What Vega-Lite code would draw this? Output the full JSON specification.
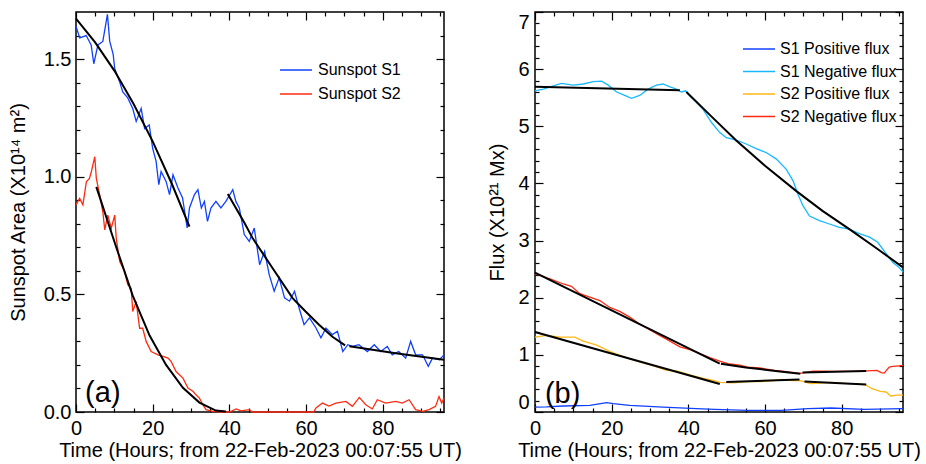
{
  "$schema": "https://vega.github.io/schema/vega-lite/v6.json",
  "padding": {"left": 7, "top": 10, "right": 0, "bottom": 0},
  "spacing": 24,
  "resolve": {"scale": {"color": "independent"}, "legend": {"color": "independent"}},
  "config": {
    "font": "Liberation Sans",
    "view": {"stroke": "black", "strokeWidth": 1.5},
    "axis": {"domain": false, "grid": false, "labelFont": "Liberation Sans", "labelFontSize": 20, "labelColor": "black", "tickColor": "black", "tickWidth": 1.2, "titleFont": "Liberation Sans", "titleFontSize": 20, "titleFontWeight": "normal", "titleColor": "black", "labelFlush": false},
    "legend": {"labelFont": "Liberation Sans", "labelFontSize": 16, "labelColor": "black"}
  },
  "datasets": {
    "a": [
      {"s":"Sunspot S1","t":0,"v":1.64},{"s":"Sunspot S1","t":0.96,"v":1.59},{"s":"Sunspot S1","t":2.66,"v":1.6},{"s":"Sunspot S1","t":3.95,"v":1.56},{"s":"Sunspot S1","t":4.64,"v":1.48},{"s":"Sunspot S1","t":5.72,"v":1.56},{"s":"Sunspot S1","t":7.0,"v":1.575},{"s":"Sunspot S1","t":8.2,"v":1.69},{"s":"Sunspot S1","t":8.8,"v":1.575},{"s":"Sunspot S1","t":9.7,"v":1.52},{"s":"Sunspot S1","t":10.1,"v":1.46},{"s":"Sunspot S1","t":11.35,"v":1.405},{"s":"Sunspot S1","t":12.2,"v":1.36},{"s":"Sunspot S1","t":13.5,"v":1.335},{"s":"Sunspot S1","t":14.8,"v":1.29},{"s":"Sunspot S1","t":15.7,"v":1.235},{"s":"Sunspot S1","t":17.0,"v":1.29},{"s":"Sunspot S1","t":17.9,"v":1.205},{"s":"Sunspot S1","t":19.1,"v":1.22},{"s":"Sunspot S1","t":20.0,"v":1.12},{"s":"Sunspot S1","t":20.9,"v":1.065},{"s":"Sunspot S1","t":21.6,"v":0.966},{"s":"Sunspot S1","t":22.2,"v":1.022},{"s":"Sunspot S1","t":23.5,"v":0.98},{"s":"Sunspot S1","t":24.4,"v":0.924},{"s":"Sunspot S1","t":25.3,"v":1.008},{"s":"Sunspot S1","t":26.6,"v":0.952},{"s":"Sunspot S1","t":27.8,"v":0.91},{"s":"Sunspot S1","t":29.0,"v":0.782},{"s":"Sunspot S1","t":29.6,"v":0.867},{"s":"Sunspot S1","t":30.9,"v":0.924},{"s":"Sunspot S1","t":31.8,"v":0.945},{"s":"Sunspot S1","t":32.7,"v":0.867},{"s":"Sunspot S1","t":33.5,"v":0.895},{"s":"Sunspot S1","t":34.3,"v":0.81},{"s":"Sunspot S1","t":35.2,"v":0.867},{"s":"Sunspot S1","t":36.5,"v":0.895},{"s":"Sunspot S1","t":37.8,"v":0.867},{"s":"Sunspot S1","t":39.1,"v":0.895},{"s":"Sunspot S1","t":40.9,"v":0.945},{"s":"Sunspot S1","t":41.7,"v":0.895},{"s":"Sunspot S1","t":42.6,"v":0.867},{"s":"Sunspot S1","t":43.9,"v":0.754},{"s":"Sunspot S1","t":45.2,"v":0.725},{"s":"Sunspot S1","t":46.5,"v":0.782},{"s":"Sunspot S1","t":47.9,"v":0.626},{"s":"Sunspot S1","t":49.2,"v":0.683},{"s":"Sunspot S1","t":50.4,"v":0.584},{"s":"Sunspot S1","t":51.7,"v":0.513},{"s":"Sunspot S1","t":53.0,"v":0.57},{"s":"Sunspot S1","t":54.4,"v":0.485},{"s":"Sunspot S1","t":55.7,"v":0.471},{"s":"Sunspot S1","t":57.0,"v":0.513},{"s":"Sunspot S1","t":58.2,"v":0.442},{"s":"Sunspot S1","t":59.5,"v":0.371},{"s":"Sunspot S1","t":60.9,"v":0.4},{"s":"Sunspot S1","t":62.6,"v":0.357},{"s":"Sunspot S1","t":63.9,"v":0.315},{"s":"Sunspot S1","t":65.2,"v":0.357},{"s":"Sunspot S1","t":66.9,"v":0.329},{"s":"Sunspot S1","t":68.2,"v":0.343},{"s":"Sunspot S1","t":69.6,"v":0.257},{"s":"Sunspot S1","t":70.9,"v":0.286},{"s":"Sunspot S1","t":72.1,"v":0.279},{"s":"Sunspot S1","t":73.8,"v":0.286},{"s":"Sunspot S1","t":76.0,"v":0.257},{"s":"Sunspot S1","t":77.8,"v":0.286},{"s":"Sunspot S1","t":79.5,"v":0.257},{"s":"Sunspot S1","t":81.2,"v":0.279},{"s":"Sunspot S1","t":82.5,"v":0.243},{"s":"Sunspot S1","t":84.2,"v":0.257},{"s":"Sunspot S1","t":86.0,"v":0.229},{"s":"Sunspot S1","t":87.3,"v":0.3},{"s":"Sunspot S1","t":88.6,"v":0.243},{"s":"Sunspot S1","t":90.4,"v":0.243},{"s":"Sunspot S1","t":91.9,"v":0.194},{"s":"Sunspot S1","t":93.0,"v":0.229},{"s":"Sunspot S1","t":94.8,"v":0.222},{"s":"Sunspot S1","t":96.0,"v":0.243},
      {"s":"Sunspot S2","t":0,"v":0.88},{"s":"Sunspot S2","t":0.96,"v":0.908},{"s":"Sunspot S2","t":1.8,"v":0.88},{"s":"Sunspot S2","t":2.7,"v":0.978},{"s":"Sunspot S2","t":3.5,"v":0.993},{"s":"Sunspot S2","t":4.0,"v":1.021},{"s":"Sunspot S2","t":4.9,"v":1.085},{"s":"Sunspot S2","t":5.3,"v":0.993},{"s":"Sunspot S2","t":6.2,"v":0.922},{"s":"Sunspot S2","t":7.0,"v":0.851},{"s":"Sunspot S2","t":7.5,"v":0.774},{"s":"Sunspot S2","t":8.3,"v":0.837},{"s":"Sunspot S2","t":9.2,"v":0.781},{"s":"Sunspot S2","t":10.1,"v":0.837},{"s":"Sunspot S2","t":10.5,"v":0.738},{"s":"Sunspot S2","t":11.4,"v":0.639},{"s":"Sunspot S2","t":12.7,"v":0.597},{"s":"Sunspot S2","t":13.5,"v":0.541},{"s":"Sunspot S2","t":14.4,"v":0.526},{"s":"Sunspot S2","t":14.8,"v":0.427},{"s":"Sunspot S2","t":15.7,"v":0.469},{"s":"Sunspot S2","t":16.6,"v":0.356},{"s":"Sunspot S2","t":17.4,"v":0.356},{"s":"Sunspot S2","t":18.3,"v":0.3},{"s":"Sunspot S2","t":19.6,"v":0.257},{"s":"Sunspot S2","t":21.4,"v":0.243},{"s":"Sunspot S2","t":22.7,"v":0.236},{"s":"Sunspot S2","t":24.0,"v":0.229},{"s":"Sunspot S2","t":24.8,"v":0.215},{"s":"Sunspot S2","t":26.1,"v":0.172},{"s":"Sunspot S2","t":27.9,"v":0.144},{"s":"Sunspot S2","t":29.2,"v":0.102},{"s":"Sunspot S2","t":30.5,"v":0.088},{"s":"Sunspot S2","t":31.3,"v":0.073},{"s":"Sunspot S2","t":32.2,"v":0.059},{"s":"Sunspot S2","t":33.1,"v":0.031},{"s":"Sunspot S2","t":33.9,"v":0.01},{"s":"Sunspot S2","t":35.7,"v":0.003},{"s":"Sunspot S2","t":38,"v":0},{"s":"Sunspot S2","t":40,"v":0},{"s":"Sunspot S2","t":41.8,"v":0.013},{"s":"Sunspot S2","t":43,"v":0.005},{"s":"Sunspot S2","t":45.2,"v":0.01},{"s":"Sunspot S2","t":46,"v":0},{"s":"Sunspot S2","t":62,"v":0},{"s":"Sunspot S2","t":62.6,"v":0.017},{"s":"Sunspot S2","t":64.3,"v":0.038},{"s":"Sunspot S2","t":66,"v":0.025},{"s":"Sunspot S2","t":67.8,"v":0.038},{"s":"Sunspot S2","t":70.4,"v":0.045},{"s":"Sunspot S2","t":72.1,"v":0.024},{"s":"Sunspot S2","t":73.9,"v":0.062},{"s":"Sunspot S2","t":75.6,"v":0.031},{"s":"Sunspot S2","t":77.3,"v":0.013},{"s":"Sunspot S2","t":78.6,"v":0.052},{"s":"Sunspot S2","t":80.8,"v":0.038},{"s":"Sunspot S2","t":83.4,"v":0.045},{"s":"Sunspot S2","t":85.1,"v":0.038},{"s":"Sunspot S2","t":86.9,"v":0.052},{"s":"Sunspot S2","t":88.6,"v":0.01},{"s":"Sunspot S2","t":90.4,"v":0.003},{"s":"Sunspot S2","t":92.1,"v":0.01},{"s":"Sunspot S2","t":93.8,"v":0.024},{"s":"Sunspot S2","t":94.7,"v":0.066},{"s":"Sunspot S2","t":95.4,"v":0.038},{"s":"Sunspot S2","t":96,"v":0.059}
    ],
    "af": [
      {"g":"f1","t":0,"v":1.672},{"g":"f1","t":5,"v":1.571},{"g":"f1","t":10,"v":1.451},{"g":"f1","t":15,"v":1.31},{"g":"f1","t":20,"v":1.15},{"g":"f1","t":25,"v":0.97},{"g":"f1","t":29.6,"v":0.788},
      {"g":"f2","t":39.6,"v":0.926},{"g":"f2","t":44.0,"v":0.802},{"g":"f2","t":46.1,"v":0.738},{"g":"f2","t":51.3,"v":0.611},{"g":"f2","t":56.5,"v":0.484},{"g":"f2","t":59.9,"v":0.427},{"g":"f2","t":63.4,"v":0.371},{"g":"f2","t":66.9,"v":0.32},{"g":"f2","t":70.2,"v":0.283},
      {"g":"f3","t":71.3,"v":0.279},{"g":"f3","t":83.4,"v":0.25},{"g":"f3","t":96,"v":0.222},
      {"g":"f4","t":5.3,"v":0.957},{"g":"f4","t":10.5,"v":0.7},{"g":"f4","t":14.8,"v":0.495},{"g":"f4","t":19.2,"v":0.325},{"g":"f4","t":23.5,"v":0.2},{"g":"f4","t":27.9,"v":0.103},{"g":"f4","t":32.2,"v":0.04},{"g":"f4","t":36.5,"v":0.006},{"g":"f4","t":39.1,"v":0.002}
    ],
    "b": [
      {"s":"S1 Positive flux","t":0,"v":0.087},{"s":"S1 Positive flux","t":3,"v":0.09},{"s":"S1 Positive flux","t":7.4,"v":0.105},{"s":"S1 Positive flux","t":14.3,"v":0.116},{"s":"S1 Positive flux","t":18.7,"v":0.163},{"s":"S1 Positive flux","t":20.4,"v":0.146},{"s":"S1 Positive flux","t":24.7,"v":0.116},{"s":"S1 Positive flux","t":33.4,"v":0.087},{"s":"S1 Positive flux","t":42.1,"v":0.058},{"s":"S1 Positive flux","t":46.9,"v":0.047},{"s":"S1 Positive flux","t":55.5,"v":0.029},{"s":"S1 Positive flux","t":64.2,"v":0.029},{"s":"S1 Positive flux","t":71.2,"v":0.058},{"s":"S1 Positive flux","t":77.2,"v":0.07},{"s":"S1 Positive flux","t":85.9,"v":0.047},{"s":"S1 Positive flux","t":96,"v":0.058},
      {"s":"S1 Negative flux","t":0,"v":5.62},{"s":"S1 Negative flux","t":2.2,"v":5.65},{"s":"S1 Negative flux","t":3.9,"v":5.69},{"s":"S1 Negative flux","t":6.9,"v":5.75},{"s":"S1 Negative flux","t":10.0,"v":5.72},{"s":"S1 Negative flux","t":12.6,"v":5.74},{"s":"S1 Negative flux","t":15.2,"v":5.78},{"s":"S1 Negative flux","t":17.4,"v":5.79},{"s":"S1 Negative flux","t":19.1,"v":5.72},{"s":"S1 Negative flux","t":21.3,"v":5.6},{"s":"S1 Negative flux","t":23.4,"v":5.54},{"s":"S1 Negative flux","t":25.2,"v":5.49},{"s":"S1 Negative flux","t":27.3,"v":5.54},{"s":"S1 Negative flux","t":29.5,"v":5.65},{"s":"S1 Negative flux","t":31.7,"v":5.72},{"s":"S1 Negative flux","t":33.4,"v":5.74},{"s":"S1 Negative flux","t":35.2,"v":5.69},{"s":"S1 Negative flux","t":36.9,"v":5.65},{"s":"S1 Negative flux","t":38.2,"v":5.6},{"s":"S1 Negative flux","t":39.3,"v":5.62},{"s":"S1 Negative flux","t":40.4,"v":5.53},{"s":"S1 Negative flux","t":42.1,"v":5.42},{"s":"S1 Negative flux","t":43.8,"v":5.3},{"s":"S1 Negative flux","t":46.0,"v":5.07},{"s":"S1 Negative flux","t":48.2,"v":4.89},{"s":"S1 Negative flux","t":49.9,"v":4.8},{"s":"S1 Negative flux","t":52.5,"v":4.76},{"s":"S1 Negative flux","t":55.1,"v":4.69},{"s":"S1 Negative flux","t":57.7,"v":4.61},{"s":"S1 Negative flux","t":60.3,"v":4.54},{"s":"S1 Negative flux","t":62.9,"v":4.43},{"s":"S1 Negative flux","t":65.5,"v":4.25},{"s":"S1 Negative flux","t":67.3,"v":4.05},{"s":"S1 Negative flux","t":68.6,"v":3.81},{"s":"S1 Negative flux","t":69.9,"v":3.61},{"s":"S1 Negative flux","t":71.6,"v":3.43},{"s":"S1 Negative flux","t":74.2,"v":3.35},{"s":"S1 Negative flux","t":76.8,"v":3.29},{"s":"S1 Negative flux","t":79.4,"v":3.23},{"s":"S1 Negative flux","t":82.0,"v":3.2},{"s":"S1 Negative flux","t":84.6,"v":3.12},{"s":"S1 Negative flux","t":87.3,"v":3.06},{"s":"S1 Negative flux","t":89.4,"v":2.97},{"s":"S1 Negative flux","t":91.6,"v":2.77},{"s":"S1 Negative flux","t":93.3,"v":2.62},{"s":"S1 Negative flux","t":95.0,"v":2.53},{"s":"S1 Negative flux","t":96,"v":2.45},
      {"s":"S2 Positive flux","t":0,"v":1.31},{"s":"S2 Positive flux","t":3.0,"v":1.34},{"s":"S2 Positive flux","t":6.5,"v":1.31},{"s":"S2 Positive flux","t":10.4,"v":1.31},{"s":"S2 Positive flux","t":12.6,"v":1.24},{"s":"S2 Positive flux","t":16.1,"v":1.17},{"s":"S2 Positive flux","t":19.5,"v":1.06},{"s":"S2 Positive flux","t":22.1,"v":0.99},{"s":"S2 Positive flux","t":24.7,"v":0.93},{"s":"S2 Positive flux","t":28.2,"v":0.86},{"s":"S2 Positive flux","t":31.7,"v":0.79},{"s":"S2 Positive flux","t":34.3,"v":0.73},{"s":"S2 Positive flux","t":36.9,"v":0.72},{"s":"S2 Positive flux","t":40.4,"v":0.65},{"s":"S2 Positive flux","t":43.9,"v":0.59},{"s":"S2 Positive flux","t":46.9,"v":0.55},{"s":"S2 Positive flux","t":48.2,"v":0.52},{"s":"S2 Positive flux","t":51.7,"v":0.51},{"s":"S2 Positive flux","t":55.5,"v":0.53},{"s":"S2 Positive flux","t":59,"v":0.53},{"s":"S2 Positive flux","t":62.1,"v":0.55},{"s":"S2 Positive flux","t":64.5,"v":0.57},{"s":"S2 Positive flux","t":67,"v":0.55},{"s":"S2 Positive flux","t":69.2,"v":0.55},{"s":"S2 Positive flux","t":71.8,"v":0.495},{"s":"S2 Positive flux","t":75.1,"v":0.51},{"s":"S2 Positive flux","t":77.2,"v":0.52},{"s":"S2 Positive flux","t":79.4,"v":0.51},{"s":"S2 Positive flux","t":81.6,"v":0.495},{"s":"S2 Positive flux","t":83.8,"v":0.495},{"s":"S2 Positive flux","t":86.2,"v":0.477},{"s":"S2 Positive flux","t":87.9,"v":0.408},{"s":"S2 Positive flux","t":90.1,"v":0.36},{"s":"S2 Positive flux","t":91.6,"v":0.35},{"s":"S2 Positive flux","t":92.8,"v":0.28},{"s":"S2 Positive flux","t":94.4,"v":0.295},{"s":"S2 Positive flux","t":96,"v":0.295},
      {"s":"S2 Negative flux","t":0,"v":2.42},{"s":"S2 Negative flux","t":3.9,"v":2.33},{"s":"S2 Negative flux","t":7.4,"v":2.24},{"s":"S2 Negative flux","t":9.5,"v":2.2},{"s":"S2 Negative flux","t":11.7,"v":2.07},{"s":"S2 Negative flux","t":14.3,"v":2.01},{"s":"S2 Negative flux","t":16.9,"v":1.95},{"s":"S2 Negative flux","t":19.5,"v":1.83},{"s":"S2 Negative flux","t":22.1,"v":1.76},{"s":"S2 Negative flux","t":24.7,"v":1.66},{"s":"S2 Negative flux","t":27.3,"v":1.54},{"s":"S2 Negative flux","t":29.9,"v":1.44},{"s":"S2 Negative flux","t":32.5,"v":1.34},{"s":"S2 Negative flux","t":35.2,"v":1.24},{"s":"S2 Negative flux","t":37.8,"v":1.14},{"s":"S2 Negative flux","t":40.4,"v":1.09},{"s":"S2 Negative flux","t":43.0,"v":1.02},{"s":"S2 Negative flux","t":45.6,"v":0.95},{"s":"S2 Negative flux","t":48.2,"v":0.89},{"s":"S2 Negative flux","t":50.3,"v":0.845},{"s":"S2 Negative flux","t":53.4,"v":0.82},{"s":"S2 Negative flux","t":55.5,"v":0.786},{"s":"S2 Negative flux","t":58.6,"v":0.77},{"s":"S2 Negative flux","t":62.5,"v":0.728},{"s":"S2 Negative flux","t":65,"v":0.71},{"s":"S2 Negative flux","t":69.2,"v":0.675},{"s":"S2 Negative flux","t":72.5,"v":0.716},{"s":"S2 Negative flux","t":75.5,"v":0.716},{"s":"S2 Negative flux","t":77.7,"v":0.71},{"s":"S2 Negative flux","t":81.6,"v":0.71},{"s":"S2 Negative flux","t":82.9,"v":0.71},{"s":"S2 Negative flux","t":86.6,"v":0.72},{"s":"S2 Negative flux","t":89.2,"v":0.728},{"s":"S2 Negative flux","t":90.3,"v":0.69},{"s":"S2 Negative flux","t":91.1,"v":0.68},{"s":"S2 Negative flux","t":92.4,"v":0.786},{"s":"S2 Negative flux","t":93.3,"v":0.797},{"s":"S2 Negative flux","t":95.6,"v":0.81},{"s":"S2 Negative flux","t":96,"v":0.81}
    ],
    "bf": [
      {"g":"c1","t":0,"v":5.69},{"g":"c1","t":37.8,"v":5.63},
      {"g":"c2","t":39.5,"v":5.6},{"g":"c2","t":45.6,"v":5.2},{"g":"c2","t":52.5,"v":4.75},{"g":"c2","t":60,"v":4.31},{"g":"c2","t":68.1,"v":3.87},{"g":"c2","t":75,"v":3.52},{"g":"c2","t":82,"v":3.2},{"g":"c2","t":89,"v":2.87},{"g":"c2","t":96,"v":2.53},
      {"g":"r1","t":0,"v":2.44},{"g":"r1","t":48.2,"v":0.845},
      {"g":"r2","t":48.5,"v":0.845},{"g":"r2","t":55,"v":0.78},{"g":"r2","t":60,"v":0.74},{"g":"r2","t":65,"v":0.7},{"g":"r2","t":69.2,"v":0.67},
      {"g":"r3","t":69.8,"v":0.69},{"g":"r3","t":86.4,"v":0.716},
      {"g":"o1","t":0,"v":1.4},{"g":"o1","t":48.2,"v":0.49},
      {"g":"o2","t":49.9,"v":0.524},{"g":"o2","t":69.0,"v":0.57},
      {"g":"o3","t":70.3,"v":0.535},{"g":"o3","t":86.4,"v":0.48}
    ]
  },
  "hconcat": [
    {
      "width": 368,
      "height": 400,
      "resolve": {"axis": {"x": "independent", "y": "independent"}},
      "layer": [
        {
          "data": {"name": "a"},
          "transform": [{"filter": "datum.s === 'Sunspot S1'"}],
          "mark": {"type": "line", "strokeWidth": 1.3},
          "encoding": {
            "x": {"field": "t", "type": "quantitative", "scale": {"domain": [0, 96], "nice": false, "zero": false}, "axis": {"orient": "bottom", "values": [0, 20, 40, 60, 80], "ticks": false, "tickSize": 0, "labelPadding": 6, "title": "Time (Hours; from 22-Feb-2023 00:07:55 UT)", "titlePadding": 2}},
            "y": {"field": "v", "type": "quantitative", "scale": {"domain": [0, 1.7], "nice": false, "zero": false}, "axis": {"orient": "left", "values": [0, 0.5, 1, 1.5], "format": ".1f", "ticks": false, "tickSize": 0, "labelPadding": 5, "title": "Sunspot Area (X10¹⁴ m²)", "titlePadding": 15}},
            "color": {"field": "s", "type": "nominal", "scale": {"domain": ["Sunspot S1", "Sunspot S2"], "range": ["#1040ff", "#ff2a10"]}, "legend": {"orient": "none", "legendX": 211, "legendY": 49, "title": null, "symbolType": "M-2,0H2", "symbolSize": 256, "symbolStrokeWidth": 1.5, "labelOffset": 13, "rowPadding": 7, "padding": 0}}
          }
        },
        {
          "data": {"name": "a"},
          "transform": [{"filter": "datum.s === 'Sunspot S2'"}],
          "mark": {"type": "line", "strokeWidth": 1.3},
          "encoding": {
            "x": {"field": "t", "type": "quantitative", "scale": {"domain": [0, 96], "nice": false, "zero": false}, "axis": {"orient": "bottom", "values": [0, 20, 40, 60, 80], "tickSize": 8, "offset": -8, "labels": false, "title": null}},
            "y": {"field": "v", "type": "quantitative", "scale": {"domain": [0, 1.7], "nice": false, "zero": false}, "axis": {"orient": "left", "values": [0, 0.5, 1, 1.5], "tickSize": 8, "offset": -8, "labels": false, "title": null}},
            "color": {"field": "s", "type": "nominal", "scale": {"domain": ["Sunspot S1", "Sunspot S2"], "range": ["#1040ff", "#ff2a10"]}, "legend": {"orient": "none", "legendX": 211, "legendY": 49, "title": null, "symbolType": "M-2,0H2", "symbolSize": 256, "symbolStrokeWidth": 1.5, "labelOffset": 13, "rowPadding": 7, "padding": 0}}
          }
        },
        {
          "data": {"name": "af"},
          "transform": [{"filter": "datum.g === 'f1' || datum.g === 'f2'"}],
          "mark": {"type": "line", "strokeWidth": 2, "color": "black"},
          "encoding": {
            "x": {"field": "t", "type": "quantitative", "scale": {"domain": [0, 96], "nice": false, "zero": false}, "axis": {"orient": "bottom", "values": [5, 10, 15, 25, 30, 35, 45, 50, 55, 65, 70, 75, 85, 90, 95], "tickSize": 4, "offset": -4, "labels": false, "title": null}},
            "y": {"field": "v", "type": "quantitative", "scale": {"domain": [0, 1.7], "nice": false, "zero": false}, "axis": {"orient": "left", "values": [0.1, 0.2, 0.3, 0.4, 0.6, 0.7, 0.8, 0.9, 1.1, 1.2, 1.3, 1.4, 1.6], "tickSize": 4, "offset": -4, "labels": false, "title": null}},
            "detail": {"field": "g"}
          }
        },
        {
          "data": {"name": "af"},
          "transform": [{"filter": "datum.g === 'f3'"}],
          "mark": {"type": "line", "strokeWidth": 2, "color": "black"},
          "encoding": {
            "x": {"field": "t", "type": "quantitative", "scale": {"domain": [0, 96], "nice": false, "zero": false}, "axis": {"orient": "top", "values": [0, 20, 40, 60, 80], "tickSize": 8, "offset": -8, "labels": false, "title": null}},
            "y": {"field": "v", "type": "quantitative", "scale": {"domain": [0, 1.7], "nice": false, "zero": false}, "axis": {"orient": "right", "values": [0, 0.5, 1, 1.5], "tickSize": 8, "offset": -8, "labels": false, "title": null}}
          }
        },
        {
          "data": {"name": "af"},
          "transform": [{"filter": "datum.g === 'f4'"}],
          "mark": {"type": "line", "strokeWidth": 2, "color": "black"},
          "encoding": {
            "x": {"field": "t", "type": "quantitative", "scale": {"domain": [0, 96], "nice": false, "zero": false}, "axis": {"orient": "top", "values": [5, 10, 15, 25, 30, 35, 45, 50, 55, 65, 70, 75, 85, 90, 95], "tickSize": 4, "offset": -4, "labels": false, "title": null}},
            "y": {"field": "v", "type": "quantitative", "scale": {"domain": [0, 1.7], "nice": false, "zero": false}, "axis": {"orient": "right", "values": [0.1, 0.2, 0.3, 0.4, 0.6, 0.7, 0.8, 0.9, 1.1, 1.2, 1.3, 1.4, 1.6], "tickSize": 4, "offset": -4, "labels": false, "title": null}}
          }
        },
        {
          "data": {"values": [{"lab": "(a)"}]},
          "mark": {"type": "text", "fontSize": 29, "font": "Liberation Sans", "align": "center", "baseline": "middle", "color": "black"},
          "encoding": {
            "x": {"datum": 7, "type": "quantitative", "axis": null},
            "y": {"datum": 0.08, "type": "quantitative", "axis": null},
            "text": {"field": "lab"}
          }
        }
      ]
    },
    {
      "width": 368,
      "height": 400,
      "resolve": {"axis": {"x": "independent", "y": "independent"}},
      "layer": [
        {
          "data": {"name": "b"},
          "transform": [{"filter": "datum.s === 'S1 Positive flux'"}],
          "mark": {"type": "line", "strokeWidth": 1.3},
          "encoding": {
            "x": {"field": "t", "type": "quantitative", "scale": {"domain": [0, 96], "nice": false, "zero": false}, "axis": {"orient": "bottom", "values": [0, 20, 40, 60, 80], "ticks": false, "tickSize": 0, "labelPadding": 6, "title": "Time (Hours; from 22-Feb-2023 00:07:55 UT)", "titlePadding": 2}},
            "y": {"field": "v", "type": "quantitative", "scale": {"domain": [0, 7], "nice": false, "zero": false}, "axis": {"orient": "left", "values": [0, 1, 2, 3, 4, 5, 6, 7], "format": "d", "ticks": false, "tickSize": 0, "labelPadding": 6, "labelFlush": true, "title": "Flux (X10²¹ Mx)", "titlePadding": 10}},
            "color": {"field": "s", "type": "nominal", "scale": {"domain": ["S1 Positive flux", "S1 Negative flux", "S2 Positive flux", "S2 Negative flux"], "range": ["#1040ff", "#18b8ff", "#ffb818", "#ff2a10"]}, "legend": {"orient": "none", "legendX": 215, "legendY": 28, "title": null, "symbolType": "M-2,0H2", "symbolSize": 256, "symbolStrokeWidth": 1.5, "labelOffset": 12, "rowPadding": 5.5, "padding": 0}}
          }
        },
        {
          "data": {"name": "b"},
          "transform": [{"filter": "datum.s === 'S1 Negative flux'"}],
          "mark": {"type": "line", "strokeWidth": 1.3},
          "encoding": {
            "x": {"field": "t", "type": "quantitative", "scale": {"domain": [0, 96], "nice": false, "zero": false}, "axis": {"orient": "bottom", "values": [0, 20, 40, 60, 80], "tickSize": 8, "offset": -8, "labels": false, "title": null}},
            "y": {"field": "v", "type": "quantitative", "scale": {"domain": [0, 7], "nice": false, "zero": false}, "axis": {"orient": "left", "values": [0, 1, 2, 3, 4, 5, 6, 7], "tickSize": 8, "offset": -8, "labels": false, "title": null}},
            "color": {"field": "s", "type": "nominal", "scale": {"domain": ["S1 Positive flux", "S1 Negative flux", "S2 Positive flux", "S2 Negative flux"], "range": ["#1040ff", "#18b8ff", "#ffb818", "#ff2a10"]}, "legend": {"orient": "none", "legendX": 215, "legendY": 28, "title": null, "symbolType": "M-2,0H2", "symbolSize": 256, "symbolStrokeWidth": 1.5, "labelOffset": 12, "rowPadding": 5.5, "padding": 0}}
          }
        },
        {
          "data": {"name": "b"},
          "transform": [{"filter": "datum.s === 'S2 Positive flux'"}],
          "mark": {"type": "line", "strokeWidth": 1.3},
          "encoding": {
            "x": {"field": "t", "type": "quantitative", "scale": {"domain": [0, 96], "nice": false, "zero": false}, "axis": {"orient": "bottom", "values": [5, 10, 15, 25, 30, 35, 45, 50, 55, 65, 70, 75, 85, 90, 95], "tickSize": 4, "offset": -4, "labels": false, "title": null}},
            "y": {"field": "v", "type": "quantitative", "scale": {"domain": [0, 7], "nice": false, "zero": false}, "axis": {"orient": "left", "values": [0.2, 0.4, 0.6, 0.8, 1.2, 1.4, 1.6, 1.8, 2.2, 2.4, 2.6, 2.8, 3.2, 3.4, 3.6, 3.8, 4.2, 4.4, 4.6, 4.8, 5.2, 5.4, 5.6, 5.8, 6.2, 6.4, 6.6, 6.8], "tickSize": 4, "offset": -4, "labels": false, "title": null}},
            "color": {"field": "s", "type": "nominal", "scale": {"domain": ["S1 Positive flux", "S1 Negative flux", "S2 Positive flux", "S2 Negative flux"], "range": ["#1040ff", "#18b8ff", "#ffb818", "#ff2a10"]}, "legend": {"orient": "none", "legendX": 215, "legendY": 28, "title": null, "symbolType": "M-2,0H2", "symbolSize": 256, "symbolStrokeWidth": 1.5, "labelOffset": 12, "rowPadding": 5.5, "padding": 0}}
          }
        },
        {
          "data": {"name": "b"},
          "transform": [{"filter": "datum.s === 'S2 Negative flux'"}],
          "mark": {"type": "line", "strokeWidth": 1.3},
          "encoding": {
            "x": {"field": "t", "type": "quantitative", "scale": {"domain": [0, 96], "nice": false, "zero": false}, "axis": {"orient": "top", "values": [0, 20, 40, 60, 80], "tickSize": 8, "offset": -8, "labels": false, "title": null}},
            "y": {"field": "v", "type": "quantitative", "scale": {"domain": [0, 7], "nice": false, "zero": false}, "axis": {"orient": "right", "values": [0, 1, 2, 3, 4, 5, 6, 7], "tickSize": 8, "offset": -8, "labels": false, "title": null}},
            "color": {"field": "s", "type": "nominal", "scale": {"domain": ["S1 Positive flux", "S1 Negative flux", "S2 Positive flux", "S2 Negative flux"], "range": ["#1040ff", "#18b8ff", "#ffb818", "#ff2a10"]}, "legend": {"orient": "none", "legendX": 215, "legendY": 28, "title": null, "symbolType": "M-2,0H2", "symbolSize": 256, "symbolStrokeWidth": 1.5, "labelOffset": 12, "rowPadding": 5.5, "padding": 0}}
          }
        },
        {
          "data": {"name": "bf"},
          "mark": {"type": "line", "strokeWidth": 2, "color": "black"},
          "encoding": {
            "x": {"field": "t", "type": "quantitative", "scale": {"domain": [0, 96], "nice": false, "zero": false}, "axis": {"orient": "top", "values": [5, 10, 15, 25, 30, 35, 45, 50, 55, 65, 70, 75, 85, 90, 95], "tickSize": 4, "offset": -4, "labels": false, "title": null}},
            "y": {"field": "v", "type": "quantitative", "scale": {"domain": [0, 7], "nice": false, "zero": false}, "axis": {"orient": "right", "values": [0.2, 0.4, 0.6, 0.8, 1.2, 1.4, 1.6, 1.8, 2.2, 2.4, 2.6, 2.8, 3.2, 3.4, 3.6, 3.8, 4.2, 4.4, 4.6, 4.8, 5.2, 5.4, 5.6, 5.8, 6.2, 6.4, 6.6, 6.8], "tickSize": 4, "offset": -4, "labels": false, "title": null}},
            "detail": {"field": "g"}
          }
        },
        {
          "data": {"values": [{"lab": "(b)"}]},
          "mark": {"type": "text", "fontSize": 29, "font": "Liberation Sans", "align": "center", "baseline": "middle", "color": "black"},
          "encoding": {
            "x": {"datum": 7.2, "type": "quantitative", "axis": null},
            "y": {"datum": 0.32, "type": "quantitative", "axis": null},
            "text": {"field": "lab"}
          }
        }
      ]
    }
  ]
}
